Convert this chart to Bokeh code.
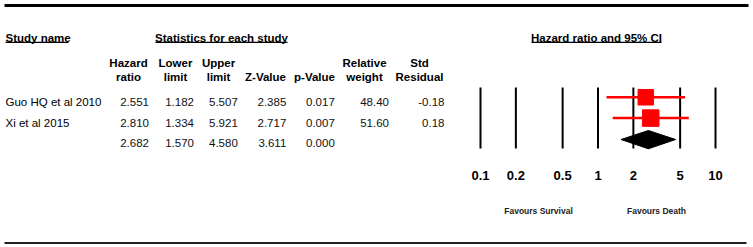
from bokeh.plotting import figure
from bokeh.models import Range1d, LogScale
from bokeh.core.properties import value
from bokeh.embed import file_html
from bokeh.resources import INLINE

# ---- data ----
studies = ["Guo HQ et al 2010", "Xi et al 2015"]
hazard_ratio = [2.551, 2.810]
lower_limit = [1.182, 1.334]
upper_limit = [5.507, 5.921]
z_value = [2.385, 2.717]
p_value = [0.017, 0.007]
rel_weight = [48.40, 51.60]
std_resid = [-0.18, 0.18]

summary_hr = 2.682
summary_lower = 1.570
summary_upper = 4.580
summary_z = 3.611
summary_p = 0.000

tick_values = [0.1, 0.2, 0.5, 1, 2, 5, 10]
tick_labels = ["0.1", "0.2", "0.5", "1", "2", "5", "10"]

# ---- layout ----
W, H = 753, 247
FONT = value("Liberation Sans")
FS = "11.5px"

px_per_decade = 117.5
x01 = 480.0  # pixel of 0.1
log_start = 10 ** (-1 - x01 / px_per_decade)
log_end = 10 ** (1 + (W - (x01 + 2 * px_per_decade)) / px_per_decade)

p = figure(width=W, height=H, x_range=Range1d(0, W), y_range=Range1d(H, 0),
           x_axis_type=None, y_axis_type=None, output_backend="svg",
           toolbar_location=None, min_border=0)
p.outline_line_color = None
p.grid.visible = False
p.extra_x_ranges = {"log": Range1d(log_start, log_end)}
p.extra_x_scales = {"log": LogScale()}

# rules
p.segment(x0=[4], x1=[748], y0=[5], y1=[5], line_color="black", line_width=3)
p.segment(x0=[4], x1=[746], y0=[242.5], y1=[242.5], line_color="#222222", line_width=2)

def txt(x, y, t, align="left", bold=False, size=FS, color="black"):
    p.text(x=x, y=y, text=t, text_align=align, text_baseline="alphabetic",
           text_font=FONT, text_font_size=size,
           text_font_style="bold" if bold else "normal", text_color=color)

# group headers
hb = 37.3
txt([5], [hb], ["Study name"], bold=True)
txt([221], [hb], ["Statistics for each study"], align="center", bold=True)
txt([596], [hb], ["Hazard ratio and 95% CI"], align="center", bold=True)
p.segment(x0=[5, 155, 531], x1=[68, 287, 661], y0=[41.8] * 3, y1=[41.8] * 3,
          line_color="black", line_width=1.2)

# column headers
col_centers = [128, 175, 218, 265, 314, 364, 419]
h1 = ["Hazard", "Lower", "Upper", "", "", "Relative", "Std"]
h2 = ["ratio", "limit", "limit", "Z-Value", "p-Value", "weight", "Residual"]
txt(col_centers, [62.7] * 7, h1, align="center", bold=True)
txt(col_centers, [76] * 7, h2, align="center", bold=True)

# rows
row_base = [101.6, 122.0]
sum_base = 142.3
col_right = [148.5, 193.5, 237.3, 285.8, 334.3, 388.5, 444]
txt([5] * len(studies), row_base, studies)
cols = [
    ["%.3f" % v for v in hazard_ratio],
    ["%.3f" % v for v in lower_limit],
    ["%.3f" % v for v in upper_limit],
    ["%.3f" % v for v in z_value],
    ["%.3f" % v for v in p_value],
    ["%.2f" % v for v in rel_weight],
    ["%.2f" % v for v in std_resid],
]
for xr, vals in zip(col_right, cols):
    txt([xr] * len(vals), row_base, vals, align="right", color="#111111")
sum_vals = ["%.3f" % v for v in [summary_hr, summary_lower, summary_upper, summary_z, summary_p]]
txt(col_right[:5], [sum_base] * 5, sum_vals, align="right", color="#111111")

# forest plot
p.segment(x0=tick_values, x1=tick_values, y0=[87] * len(tick_values), y1=[148] * len(tick_values),
          x_range_name="log", line_color="black", line_width=2)

row_y = [96.8, 117.6]
p.segment(x0=lower_limit, x1=upper_limit, y0=row_y, y1=row_y, x_range_name="log",
          line_color="#ff0000", line_width=2.5)
p.scatter(x=hazard_ratio, y=row_y, marker="square", size=[w * 0.32 for w in rel_weight],
          x_range_name="log", fill_color="#ff0000", line_color="#ff0000")

p.patch(x=[summary_lower, summary_hr, summary_upper, summary_hr], y=[139, 130, 139, 148.3],
        x_range_name="log", fill_color="black", line_color="black")

p.text(x=tick_values, y=[174.5] * len(tick_values), text=tick_labels, x_range_name="log",
       text_align="center", text_baseline="alphabetic", text_font=FONT,
       text_font_size="13px", text_font_style="bold", text_color="black")

txt([538, 656], [210, 210], ["Favours Survival", "Favours Death"], align="center",
    bold=True, size="8.5px", color="#222222")

open("out.html", "w").write(file_html(p, INLINE))
